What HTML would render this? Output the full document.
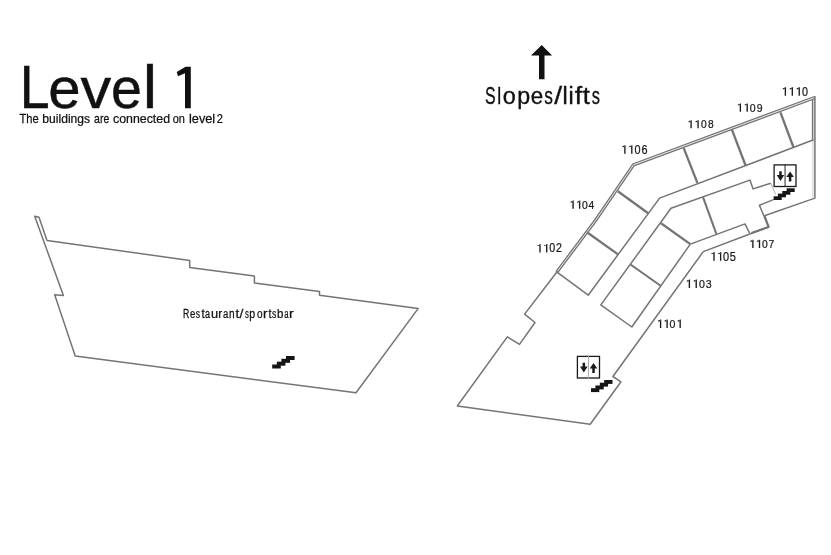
<!DOCTYPE html>
<html><head><meta charset="utf-8"><style>
html,body{margin:0;padding:0;background:#fff;}
body{width:831px;height:555px;overflow:hidden;}
svg{display:block;font-family:"Liberation Sans",sans-serif;filter:grayscale(1);}
</style></head><body>
<svg width="831" height="555" viewBox="0 0 831 555">
<polygon points="34.7,216.2 39.0,217.3 47.0,240.4 189.7,260.5 189.7,267.4 254.4,276.1 254.4,283.0 319.5,291.6 319.5,295.2 418.1,308.6 356.0,392.8 75.2,356.1 54.7,294.7 63.4,295.6" fill="none" stroke="#747474" stroke-width="1.5" stroke-linejoin="round"/>
<rect x="272.2" y="364.5" width="8.6" height="4.0" fill="#151515"/>
<rect x="276.8" y="361.7" width="8.6" height="4.0" fill="#151515"/>
<rect x="281.4" y="358.8" width="8.6" height="4.0" fill="#151515"/>
<rect x="286.0" y="356.0" width="8.6" height="4.0" fill="#151515"/>
<polyline points="814.8,97.5 633.5,164.8 595.5,220.5 556.7,272.2" fill="none" stroke="#747474" stroke-width="3.4" stroke-linejoin="miter"/>
<polyline points="814.8,97.5 633.5,164.8 595.5,220.5 556.7,272.2" fill="none" stroke="#ececec" stroke-width="1.0" stroke-linejoin="miter"/>
<polyline points="557.5,271.2 524.6,314.1 535.0,322.5 519.5,344.4 507.3,336.9 457.3,406.0 590.2,424.3 621.0,381.8 612.9,376.5 703.3,251.6 768.6,226.9 759.4,205.3 773.5,199.6" fill="none" stroke="#747474" stroke-width="1.5" stroke-linejoin="round"/>
<polyline points="814.9,96.0 814.9,198.1 764.4,215.8" fill="none" stroke="#747474" stroke-width="1.5" stroke-linejoin="round"/>
<line x1="812.6" y1="99.5" x2="812.6" y2="139.7" stroke="#747474" stroke-width="1.5"/>
<polyline points="764.6,216.2 768.6,226.9 751.5,233.0" fill="none" stroke="#747474" stroke-width="2.1" stroke-linejoin="round"/>
<line x1="812.9" y1="139.7" x2="812.9" y2="197.5" stroke="#c8c8c8" stroke-width="1.0"/>
<polyline points="813.6,139.8 659.6,198.1 588.2,295.2 556.7,271.9" fill="none" stroke="#747474" stroke-width="1.5" stroke-linejoin="round"/>
<polyline points="690.3,244.1 745.0,223.9 749.5,233.0" fill="none" stroke="#747474" stroke-width="1.5" stroke-linejoin="round"/>
<line x1="775.7" y1="194.6" x2="770.7" y2="183.2" stroke="#b0b0b0" stroke-width="1.0"/>
<polyline points="770.7,183.2 753.1,188.9 749.9,180.1 671.0,208.3 600.8,304.9 631.8,327.0 690.3,244.1" fill="none" stroke="#747474" stroke-width="1.5" stroke-linejoin="round"/>
<line x1="780.4" y1="112.4" x2="793.4" y2="147" stroke="#747474" stroke-width="2.3"/>
<line x1="731.7" y1="129.2" x2="745.6" y2="165.5" stroke="#747474" stroke-width="2.3"/>
<line x1="683.7" y1="148.2" x2="697.4" y2="182.8" stroke="#747474" stroke-width="2.3"/>
<line x1="617.8" y1="191.3" x2="648.2" y2="213.2" stroke="#747474" stroke-width="2.3"/>
<line x1="587" y1="232.2" x2="618" y2="254.4" stroke="#747474" stroke-width="2.3"/>
<line x1="630.5" y1="264.5" x2="661" y2="286" stroke="#747474" stroke-width="2.1"/>
<line x1="661" y1="223.2" x2="690.3" y2="244.1" stroke="#747474" stroke-width="2.3"/>
<line x1="703" y1="197.1" x2="716.4" y2="234" stroke="#747474" stroke-width="2.1"/>
<rect x="774.1" y="164.9" width="21.899999999999977" height="21.599999999999994" fill="none" stroke="#1a1a1a" stroke-width="1.3"/>
<line x1="785.05" y1="164.4" x2="785.05" y2="187" stroke="#222" stroke-width="1.0"/>
<polygon points="779.22,171.18 781.72,171.18 781.72,175.022 784.27,175.022 780.47,181.124 776.6700000000001,175.022 779.22,175.022" fill="#1a1a1a"/>
<polygon points="790.088,171.406 793.8879999999999,177.056 791.338,177.056 791.338,181.576 788.838,181.576 788.838,177.056 786.288,177.056" fill="#1a1a1a"/>
<rect x="773.6" y="196.3" width="8.1" height="3.7" fill="#151515"/>
<rect x="777.9" y="193.6" width="8.1" height="3.7" fill="#151515"/>
<rect x="782.3" y="191.0" width="8.1" height="3.7" fill="#151515"/>
<rect x="786.6" y="188.3" width="8.1" height="3.7" fill="#151515"/>
<rect x="577.4" y="356.4" width="22.100000000000023" height="21.600000000000023" fill="none" stroke="#1a1a1a" stroke-width="1.3"/>
<line x1="588.45" y1="355.9" x2="588.45" y2="378.5" stroke="#aaa" stroke-width="1.0"/>
<polygon points="582.5799999999999,362.68 585.0799999999999,362.68 585.0799999999999,366.522 587.6299999999999,366.522 583.8299999999999,372.624 580.03,366.522 582.5799999999999,366.522" fill="#1a1a1a"/>
<polygon points="593.532,362.906 597.332,368.556 594.782,368.556 594.782,373.076 592.282,373.076 592.282,368.556 589.7320000000001,368.556" fill="#1a1a1a"/>
<rect x="591.0" y="388.2" width="8.3" height="3.9" fill="#151515"/>
<rect x="595.4" y="385.5" width="8.3" height="3.9" fill="#151515"/>
<rect x="599.8" y="382.7" width="8.3" height="3.9" fill="#151515"/>
<rect x="604.2" y="380.0" width="8.3" height="3.9" fill="#151515"/>
<polygon points="541.7,44.9 552.1,55.4 544.5,55.4 544.5,79.2 539,79.2 539,55.4 531,55.4" fill="#111"/>
<path d="M784.70,87.30 h1.35 V95.80 h-1.35 Z M785.00,87.30 L782.70,88.60 L783.00,89.50 L785.00,88.70 Z" fill="#1a1a1a"/>
<path d="M791.62,87.30 h1.35 V95.80 h-1.35 Z M791.92,87.30 L789.62,88.60 L789.92,89.50 L791.92,88.70 Z" fill="#1a1a1a"/>
<path d="M798.53,87.30 h1.35 V95.80 h-1.35 Z M798.83,87.30 L796.53,88.60 L796.83,89.50 L798.83,88.70 Z" fill="#1a1a1a"/>
<text transform="translate(804.90,95.80) scale(0.9,1)" font-size="11.93" fill="#1a1a1a" stroke="#1a1a1a" stroke-width="0.25" text-anchor="middle">0</text>
<path d="M739.70,103.40 h1.35 V111.70 h-1.35 Z M740.00,103.40 L737.70,104.70 L738.00,105.60 L740.00,104.80 Z" fill="#1a1a1a"/>
<path d="M746.52,103.40 h1.35 V111.70 h-1.35 Z M746.82,103.40 L744.52,104.70 L744.82,105.60 L746.82,104.80 Z" fill="#1a1a1a"/>
<text transform="translate(752.78,111.70) scale(0.9,1)" font-size="11.64" fill="#1a1a1a" stroke="#1a1a1a" stroke-width="0.25" text-anchor="middle">0</text>
<text transform="translate(759.60,111.70) scale(0.9,1)" font-size="11.64" fill="#1a1a1a" stroke="#1a1a1a" stroke-width="0.25" text-anchor="middle">9</text>
<path d="M690.40,120.20 h1.35 V128.30 h-1.35 Z M690.70,120.20 L688.40,121.50 L688.70,122.40 L690.70,121.60 Z" fill="#1a1a1a"/>
<path d="M697.38,120.20 h1.35 V128.30 h-1.35 Z M697.68,120.20 L695.38,121.50 L695.68,122.40 L697.68,121.60 Z" fill="#1a1a1a"/>
<text transform="translate(703.82,128.30) scale(0.9,1)" font-size="11.35" fill="#1a1a1a" stroke="#1a1a1a" stroke-width="0.25" text-anchor="middle">0</text>
<text transform="translate(710.80,128.30) scale(0.9,1)" font-size="11.35" fill="#1a1a1a" stroke="#1a1a1a" stroke-width="0.25" text-anchor="middle">8</text>
<path d="M624.20,145.20 h1.35 V153.80 h-1.35 Z M624.50,145.20 L622.20,146.50 L622.50,147.40 L624.50,146.60 Z" fill="#1a1a1a"/>
<path d="M631.12,145.20 h1.35 V153.80 h-1.35 Z M631.42,145.20 L629.12,146.50 L629.42,147.40 L631.42,146.60 Z" fill="#1a1a1a"/>
<text transform="translate(637.48,153.80) scale(0.9,1)" font-size="12.07" fill="#1a1a1a" stroke="#1a1a1a" stroke-width="0.25" text-anchor="middle">0</text>
<text transform="translate(644.40,153.80) scale(0.9,1)" font-size="12.07" fill="#1a1a1a" stroke="#1a1a1a" stroke-width="0.25" text-anchor="middle">6</text>
<path d="M572.40,200.60 h1.35 V208.80 h-1.35 Z M572.70,200.60 L570.40,201.90 L570.70,202.80 L572.70,202.00 Z" fill="#1a1a1a"/>
<path d="M578.95,200.60 h1.35 V208.80 h-1.35 Z M579.25,200.60 L576.95,201.90 L577.25,202.80 L579.25,202.00 Z" fill="#1a1a1a"/>
<text transform="translate(584.95,208.80) scale(0.9,1)" font-size="11.50" fill="#1a1a1a" stroke="#1a1a1a" stroke-width="0.25" text-anchor="middle">0</text>
<text transform="translate(591.50,208.80) scale(0.9,1)" font-size="11.50" fill="#1a1a1a" stroke="#1a1a1a" stroke-width="0.25" text-anchor="middle">4</text>
<path d="M539.30,243.90 h1.35 V252.40 h-1.35 Z M539.60,243.90 L537.30,245.20 L537.60,246.10 L539.60,245.30 Z" fill="#1a1a1a"/>
<path d="M546.05,243.90 h1.35 V252.40 h-1.35 Z M546.35,243.90 L544.05,245.20 L544.35,246.10 L546.35,245.30 Z" fill="#1a1a1a"/>
<text transform="translate(552.25,252.40) scale(0.9,1)" font-size="11.93" fill="#1a1a1a" stroke="#1a1a1a" stroke-width="0.25" text-anchor="middle">0</text>
<text transform="translate(559.00,252.40) scale(0.9,1)" font-size="11.93" fill="#1a1a1a" stroke="#1a1a1a" stroke-width="0.25" text-anchor="middle">2</text>
<path d="M752.20,239.80 h1.35 V248.00 h-1.35 Z M752.50,239.80 L750.20,241.10 L750.50,242.00 L752.50,241.20 Z" fill="#1a1a1a"/>
<path d="M758.82,239.80 h1.35 V248.00 h-1.35 Z M759.12,239.80 L756.82,241.10 L757.12,242.00 L759.12,241.20 Z" fill="#1a1a1a"/>
<text transform="translate(764.88,248.00) scale(0.9,1)" font-size="11.50" fill="#1a1a1a" stroke="#1a1a1a" stroke-width="0.25" text-anchor="middle">0</text>
<text transform="translate(771.50,248.00) scale(0.9,1)" font-size="11.50" fill="#1a1a1a" stroke="#1a1a1a" stroke-width="0.25" text-anchor="middle">7</text>
<path d="M713.30,252.10 h1.35 V260.80 h-1.35 Z M713.60,252.10 L711.30,253.40 L711.60,254.30 L713.60,253.50 Z" fill="#1a1a1a"/>
<path d="M719.95,252.10 h1.35 V260.80 h-1.35 Z M720.25,252.10 L717.95,253.40 L718.25,254.30 L720.25,253.50 Z" fill="#1a1a1a"/>
<text transform="translate(726.05,260.80) scale(0.9,1)" font-size="12.21" fill="#1a1a1a" stroke="#1a1a1a" stroke-width="0.25" text-anchor="middle">0</text>
<text transform="translate(732.70,260.80) scale(0.9,1)" font-size="12.21" fill="#1a1a1a" stroke="#1a1a1a" stroke-width="0.25" text-anchor="middle">5</text>
<path d="M688.70,279.50 h1.35 V287.90 h-1.35 Z M689.00,279.50 L686.70,280.80 L687.00,281.70 L689.00,280.90 Z" fill="#1a1a1a"/>
<path d="M695.55,279.50 h1.35 V287.90 h-1.35 Z M695.85,279.50 L693.55,280.80 L693.85,281.70 L695.85,280.90 Z" fill="#1a1a1a"/>
<text transform="translate(701.85,287.90) scale(0.9,1)" font-size="11.78" fill="#1a1a1a" stroke="#1a1a1a" stroke-width="0.25" text-anchor="middle">0</text>
<text transform="translate(708.70,287.90) scale(0.9,1)" font-size="11.78" fill="#1a1a1a" stroke="#1a1a1a" stroke-width="0.25" text-anchor="middle">3</text>
<path d="M659.90,319.50 h1.35 V327.90 h-1.35 Z M660.20,319.50 L657.90,320.80 L658.20,321.70 L660.20,320.90 Z" fill="#1a1a1a"/>
<path d="M666.43,319.50 h1.35 V327.90 h-1.35 Z M666.73,319.50 L664.43,320.80 L664.73,321.70 L666.73,320.90 Z" fill="#1a1a1a"/>
<text transform="translate(672.42,327.90) scale(0.9,1)" font-size="11.78" fill="#1a1a1a" stroke="#1a1a1a" stroke-width="0.25" text-anchor="middle">0</text>
<path d="M679.50,319.50 h1.35 V327.90 h-1.35 Z M679.80,319.50 L677.50,320.80 L677.80,321.70 L679.80,320.90 Z" fill="#1a1a1a"/>
<text transform="translate(19.79,108.20) scale(0.8763,1)" font-size="61.34" fill="#111" stroke="#111" stroke-width="0.40">L</text>
<text transform="translate(48.23,108.20) scale(1.0000,1)" font-size="58.18" fill="#111" stroke="#111" stroke-width="0.40">e</text>
<text transform="translate(80.59,108.20) scale(1.0567,1)" font-size="58.14" fill="#111" stroke="#111" stroke-width="0.40">v</text>
<text transform="translate(111.04,108.20) scale(0.9561,1)" font-size="58.18" fill="#111" stroke="#111" stroke-width="0.40">e</text>
<text transform="translate(142.73,108.20) scale(1.0536,1)" font-size="61.55" fill="#111" stroke="#111" stroke-width="0.40">l</text>
<path d="M190.8,66.8 L190.8,108.3 L185,108.3 L185,73.2 L178,76.2 L176.7,71.9 L185.6,66.8 Z" fill="#111"/>
<text transform="translate(484.95,104.03) scale(0.6623,1)" font-size="24.00" fill="#111" stroke="#111" stroke-width="0.35">S</text>
<text transform="translate(497.19,104.03) scale(0.7349,1)" font-size="24.00" fill="#111" stroke="#111" stroke-width="0.35">l</text>
<text transform="translate(502.79,104.03) scale(0.9752,1)" font-size="24.00" fill="#111" stroke="#111" stroke-width="0.35">o</text>
<text transform="translate(517.18,104.03) scale(0.9683,1)" font-size="24.00" fill="#111" stroke="#111" stroke-width="0.35">p</text>
<text transform="translate(530.73,104.03) scale(0.9280,1)" font-size="24.00" fill="#111" stroke="#111" stroke-width="0.35">e</text>
<text transform="translate(544.19,104.03) scale(0.7215,1)" font-size="24.00" fill="#111" stroke="#111" stroke-width="0.35">s</text>
<text transform="translate(554.17,104.03) scale(1.1774,1)" font-size="24.00" fill="#111" stroke="#111" stroke-width="0.35">/</text>
<text transform="translate(562.60,104.03) scale(0.9720,1)" font-size="24.00" fill="#111" stroke="#111" stroke-width="0.35">l</text>
<text transform="translate(568.61,104.03) scale(0.9720,1)" font-size="24.00" fill="#111" stroke="#111" stroke-width="0.35">i</text>
<text transform="translate(574.69,104.03) scale(1.1238,1)" font-size="24.00" fill="#111" stroke="#111" stroke-width="0.35">f</text>
<text transform="translate(582.79,104.03) scale(1.0688,1)" font-size="24.00" fill="#111" stroke="#111" stroke-width="0.35">t</text>
<text transform="translate(591.72,104.03) scale(0.6833,1)" font-size="24.00" fill="#111" stroke="#111" stroke-width="0.35">s</text>
<text transform="translate(19.47,123.28) scale(0.8860,1)" font-size="12.57" fill="#111" stroke="#111" stroke-width="0.25">The</text>
<text transform="translate(42.34,123.28) scale(0.9646,1)" font-size="12.57" fill="#111" stroke="#111" stroke-width="0.25">buildings</text>
<text transform="translate(94.08,123.28) scale(0.8344,1)" font-size="12.57" fill="#111" stroke="#111" stroke-width="0.25">are</text>
<text transform="translate(113.00,123.28) scale(0.9837,1)" font-size="12.57" fill="#111" stroke="#111" stroke-width="0.25">connected</text>
<text transform="translate(172.66,123.28) scale(0.8742,1)" font-size="12.57" fill="#111" stroke="#111" stroke-width="0.25">on</text>
<text transform="translate(188.96,123.28) scale(1.0158,1)" font-size="12.57" fill="#111" stroke="#111" stroke-width="0.25">level</text>
<text transform="translate(216.77,123.28) scale(0.8817,1)" font-size="12.57" fill="#111" stroke="#111" stroke-width="0.25">2</text>
<text transform="translate(183.11,317.77) scale(0.7062,1)" font-size="12.28" fill="#111" stroke="#111" stroke-width="0.25">R</text>
<text transform="translate(189.92,317.77) scale(0.7721,1)" font-size="12.28" fill="#111" stroke="#111" stroke-width="0.25">e</text>
<text transform="translate(195.69,317.77) scale(0.7002,1)" font-size="12.28" fill="#111" stroke="#111" stroke-width="0.25">s</text>
<text transform="translate(201.55,317.77) scale(0.9406,1)" font-size="12.28" fill="#111" stroke="#111" stroke-width="0.25">t</text>
<text transform="translate(205.04,317.77) scale(0.7371,1)" font-size="12.28" fill="#111" stroke="#111" stroke-width="0.25">a</text>
<text transform="translate(210.99,317.77) scale(1.0446,1)" font-size="12.28" fill="#111" stroke="#111" stroke-width="0.25">u</text>
<text transform="translate(218.24,317.77) scale(0.9608,1)" font-size="12.28" fill="#111" stroke="#111" stroke-width="0.25">r</text>
<text transform="translate(222.92,317.77) scale(0.7688,1)" font-size="12.28" fill="#111" stroke="#111" stroke-width="0.25">a</text>
<text transform="translate(228.96,317.77) scale(0.8146,1)" font-size="12.28" fill="#111" stroke="#111" stroke-width="0.25">n</text>
<text transform="translate(235.42,317.77) scale(1.1000,1)" font-size="12.28" fill="#111" stroke="#111" stroke-width="0.25">t</text>
<text transform="translate(239.62,317.77) scale(1.1283,1)" font-size="12.28" fill="#111" stroke="#111" stroke-width="0.25">/</text>
<text transform="translate(245.01,317.77) scale(0.6255,1)" font-size="12.28" fill="#111" stroke="#111" stroke-width="0.25">s</text>
<text transform="translate(249.24,317.77) scale(0.8600,1)" font-size="12.28" fill="#111" stroke="#111" stroke-width="0.25">p</text>
<text transform="translate(256.90,317.77) scale(0.8191,1)" font-size="12.28" fill="#111" stroke="#111" stroke-width="0.25">o</text>
<text transform="translate(262.94,317.77) scale(1.0910,1)" font-size="12.28" fill="#111" stroke="#111" stroke-width="0.25">r</text>
<text transform="translate(268.56,317.77) scale(0.8768,1)" font-size="12.28" fill="#111" stroke="#111" stroke-width="0.25">t</text>
<text transform="translate(271.89,317.77) scale(0.7002,1)" font-size="12.28" fill="#111" stroke="#111" stroke-width="0.25">s</text>
<text transform="translate(276.99,317.77) scale(0.9324,1)" font-size="12.28" fill="#111" stroke="#111" stroke-width="0.25">b</text>
<text transform="translate(284.30,317.77) scale(0.6261,1)" font-size="12.28" fill="#111" stroke="#111" stroke-width="0.25">a</text>
<text transform="translate(289.08,317.77) scale(1.1562,1)" font-size="12.28" fill="#111" stroke="#111" stroke-width="0.25">r</text>
</svg>
</body></html>
